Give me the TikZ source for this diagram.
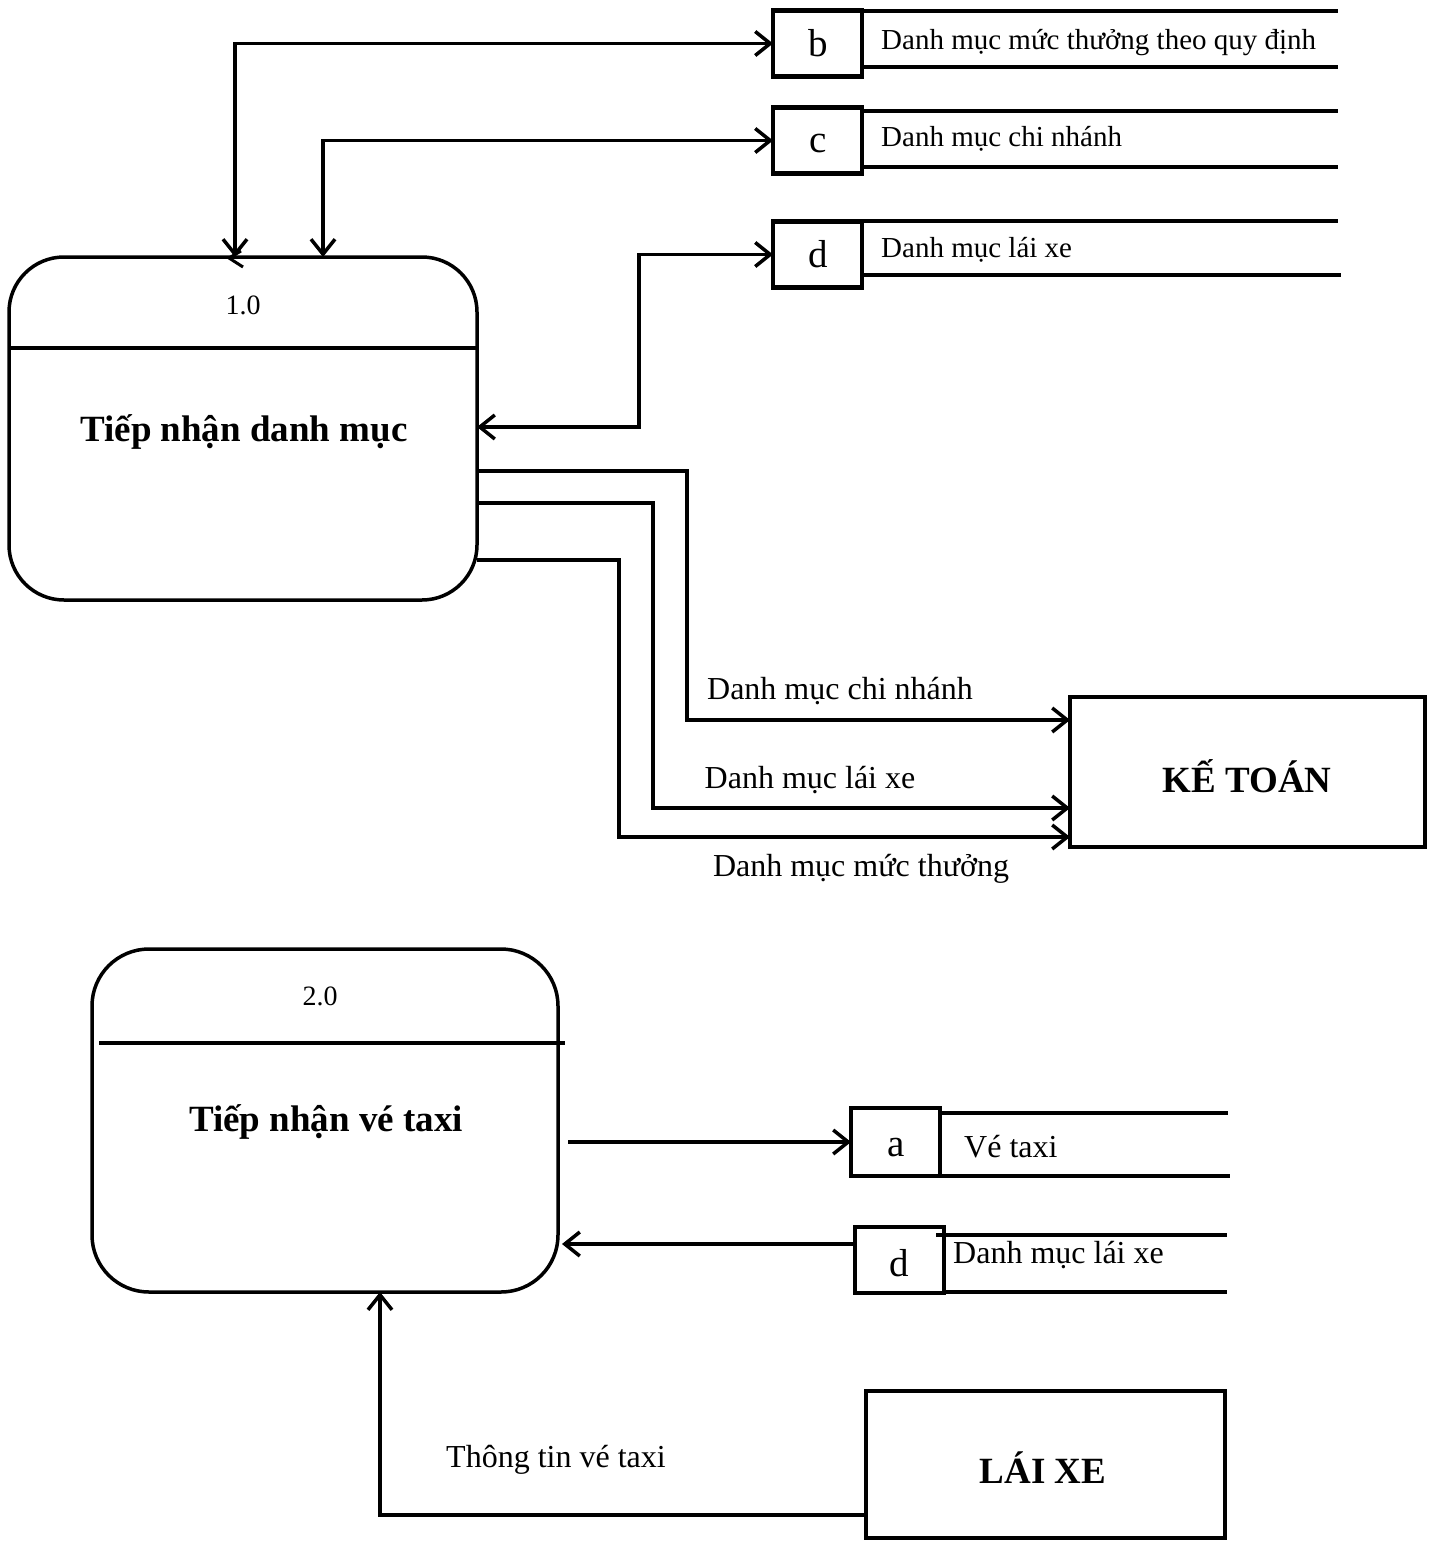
\documentclass[tikz,border=0pt]{standalone}
\usepackage{fontspec}
\setmainfont{Liberation Serif}
\usetikzlibrary{arrows.meta,calc}

\tikzset{
  proc/.style={draw, line width=3.5pt, rounded corners=#1, inner sep=0pt, outer sep=0pt},
  proc/.default=55pt,
  entity/.style={draw, line width=4.5pt, inner sep=0pt, outer sep=0pt,
    font=\fontsize{37}{44}\selectfont\bfseries},
  storebox/.style={draw, line width=4.5pt, inner sep=0pt, outer sep=0pt,
    minimum width=89pt, minimum height=66pt},
  storeid/.style={inner sep=0pt, anchor=base, font=\fontsize{39}{44}\selectfont},
  storeline/.style={line width=4pt},
  storelabel/.style={inner sep=0pt, anchor=base west, font=\fontsize{29}{34}\selectfont},
  storelabelb/.style={inner sep=0pt, anchor=base west, font=\fontsize{32}{38}\selectfont},
  procnum/.style={inner sep=0pt, font=\fontsize{28}{34}\selectfont},
  proctitle/.style={inner sep=0pt, font=\fontsize{37}{44}\selectfont\bfseries},
  flowlabel/.style={inner sep=0pt, font=\fontsize{32}{38}\selectfont},
  flow/.style={line width=3.5pt, -{Straight Barb[length=15pt,width=24pt]}},
  flowboth/.style={line width=3.5pt, {Straight Barb[length=15pt,width=24pt]}-{Straight Barb[length=15pt,width=24pt]}},
}

\begin{document}
\begin{tikzpicture}[x=1pt,y=-1pt]
\useasboundingbox (0,0) rectangle (1432,1541);

% ---------- process 1.0 ----------
\node[proc, minimum width=468pt, minimum height=343pt] (p1) at (243,428.5) {};
\draw[line width=3.5pt] (p1.west |- 0,348) -- (p1.east |- 0,348);
\node[procnum] (p1num) at (243,305) {1.0};
\node[proctitle] (p1title) at (244,432) {Tiếp nhận danh mục};

% ---------- data stores b, c, d ----------
\node[storebox] (sb) at (817.5,43.5) {};
\node[storeid] (sbid) at (818,57) {b};
\draw[storeline] (sb.east |- 0,11) -- (1338,11);
\draw[storeline] (sb.east |- 0,67) -- (1338,67);
\node[storelabel] (sblab) at (881,50) {Danh mục mức thưởng theo quy định};

\node[storebox] (sc) at (817.5,140.5) {};
\node[storeid] (scid) at (818,153) {c};
\draw[storeline] (sc.east |- 0,111) -- (1338,111);
\draw[storeline] (sc.east |- 0,167) -- (1338,167);
\node[storelabel] (sclab) at (881,147) {Danh mục chi nhánh};

\node[storebox] (sd) at (817.5,254.5) {};
\node[storeid] (sdid) at (818,267) {d};
\draw[storeline] (sd.east |- 0,221) -- (1338,221);
\draw[storeline] (sd.east |- 0,275) -- (1341,275);
\node[storelabel] (sdlab) at (881,257) {Danh mục lái xe};

% ---------- external entity KẾ TOÁN ----------
\node[entity, minimum width=355pt, minimum height=150pt] (ke) at (1247.5,772) {};
\node[proctitle] (ketext) at (1247,776) {KẾ TOÁN};

% ---------- flows of process 1.0 ----------
\coordinate (kb) at (235,0);
\coordinate (kc) at (323,0);
\coordinate (kd) at (639,427);
\draw[flowboth] (sb.west) -| (kb |- p1.north);
\draw[line width=3pt] (241,251) -- (229,258) -- (243,267);
\draw[flowboth] (sc.west) -| (kc |- p1.north);
\draw[flowboth] (sd.west) -| (kd) -- (kd -| p1.east);

\coordinate (k1) at (687,720);
\coordinate (k2) at (653,808);
\coordinate (k3) at (619,837);
\draw[flow] (p1.east |- 0,471) -| (k1) -- (k1 -| ke.west);
\draw[flow] (p1.east |- 0,503) -| (k2) -- (k2 -| ke.west);
\draw[flow] (p1.east |- 0,560) -| (k3) -- (k3 -| ke.west);
\node[flowlabel] (l1) at (840,691) {Danh mục chi nhánh};
\node[flowlabel] (l2) at (810,780) {Danh mục lái xe};
\node[flowlabel] (l3) at (861,869) {Danh mục mức thưởng};

% ---------- process 2.0 ----------
\node[proc=57pt, minimum width=466pt, minimum height=343pt] (p2) at (325,1120.5) {};
\draw[line width=3.5pt] (99,1043) -- (565,1043);
\node[procnum] (p2num) at (320,996) {2.0};
\node[proctitle] (p2title) at (326,1122) {Tiếp nhận vé taxi};

% ---------- data stores a, d ----------
\node[storebox, minimum height=68pt] (sa) at (895.5,1142) {};
\node[storeid] (said) at (896,1156) {a};
\draw[storeline] (sa.east |- 0,1113) -- (1228,1113);
\draw[storeline] (sa.east |- 0,1176) -- (1230,1176);
\node[storelabelb] (salab) at (964,1157) {Vé taxi};

\node[storebox] (sd2) at (899.5,1260) {};
\node[storeid] (sd2id) at (899,1276) {d};
\draw[storeline] (936,1235) -- (1227,1235);
\draw[storeline] (sd2.east |- 0,1292) -- (1227,1292);
\node[storelabelb] (sd2lab) at (953,1263) {Danh mục lái xe};

% ---------- external entity LÁI XE ----------
\node[entity, minimum width=359pt, minimum height=147pt] (lx) at (1045.5,1464.5) {};
\node[proctitle] (lxtext) at (1043,1468) {LÁI XE};

% ---------- flows of process 2.0 ----------
\draw[flow] ($(p2.east |- sa.west)+(10,0)$) -- (sa.west);
\draw[flow] (sd2.west |- 0,1244) -- ($(p2.east |- 0,1244)+(4,0)$);
\coordinate (kx) at (380,0);
\draw[flow] (lx.west |- 0,1515) -| (kx |- p2.south);
\node[flowlabel] (l4) at (556,1460) {Thông tin vé taxi};
\end{tikzpicture}
\end{document}
